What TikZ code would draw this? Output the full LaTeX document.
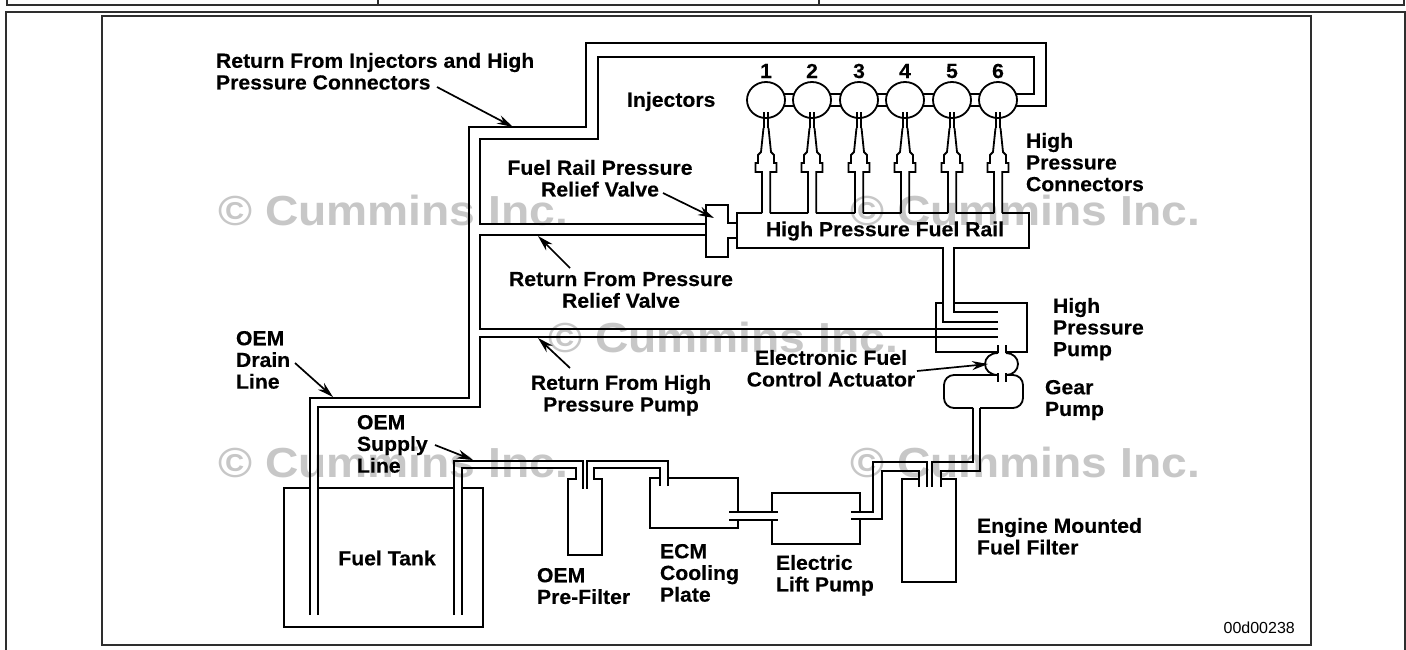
\documentclass[tikz,border=0pt]{standalone}
\usepackage{fontspec}
\setmainfont{Liberation Sans}
\newfontfamily\lblfont[FakeStretch=1.04,FakeBold=0.25]{Liberation Sans Bold}
\newfontfamily\wmfont[FakeStretch=1.1]{Liberation Sans Bold}
\usetikzlibrary{shapes.geometric,arrows.meta}
\definecolor{frameink}{gray}{0.18}
\tikzset{
  pipe/.style={draw=black,line width=1.8pt,line join=miter},
  frameline/.style={draw=frameink,line width=2.4pt},
  lbl/.style={font=\fontsize{20.4}{21.7}\selectfont\lblfont,inner sep=0pt,outer sep=0pt,text=black},
  lblw/.style={lbl,anchor=north west,align=left},
  lblc/.style={lbl,anchor=north,align=center},
  wm/.style={font=\fontsize{42}{44}\selectfont\wmfont,text=black!22,inner sep=0pt,anchor=west},
  ptr/.style={draw=black,line width=1.7pt,-{Stealth[length=16pt,width=9pt]}},
  injector/.style={ellipse,draw=black,line width=1.8pt,minimum width=38pt,minimum height=36pt,inner sep=0pt,fill=white},
}
\begin{document}
\begin{tikzpicture}[x=1pt,y=-1pt]
\useasboundingbox (0,0) rectangle (1406,649);
\fill[white] (0,0) rectangle (1406,649);
% page frames
\draw[frameline] (7,-3) -- (7,5) -- (1404,5) -- (1404,-3);
\draw[frameline] (378,-3) -- (378,5);
\draw[frameline] (819,-3) -- (819,5);
\draw[frameline,line width=2pt] (6,655) -- (6,12) -- (1405,12) -- (1405,655);
\draw[frameline,line width=2.6pt] (102,16) rectangle (1311,645);
% watermarks
\node[wm] (wa) at (218,210) {© Cummins Inc.};
\node[wm] (wb) at (850,210) {© Cummins Inc.};
\node[wm] (wc) at (548,337) {© Cummins Inc.};
\node[wm] (wd) at (218,462) {© Cummins Inc.};
\node[wm] (we) at (850,462) {© Cummins Inc.};
% injector centres
\foreach \n/\x in {1/766,2/812,3/859,4/905,5/952,6/998}{\coordinate (c\n) at (\x,100);}
% injector return
\draw[pipe] (310,615) -- (310,398) -- (469,398) -- (469,127) -- (586,127) -- (586,43) -- (1046,43) -- (1046,106) -- (c6 |- 0,106);
\draw[pipe] (318,615) -- (318,407) -- (480,407) -- (480,337) -- (998,337);
\draw[pipe] (998,329) -- (480,329) -- (480,235) -- (706,235);
\draw[pipe] (706,224) -- (480,224) -- (480,139) -- (598,139) -- (598,57) -- (1034,57) -- (1034,94) -- (c6 |- 0,94);
% injector links, under the injectors
\foreach \a/\b in {c1/c2,c2/c3,c3/c4,c4/c5,c5/c6}{
  \draw[pipe] (\a |- 0,94) -- (\b |- 0,94);
  \draw[pipe] (\a |- 0,106) -- (\b |- 0,106);
}
% injectors
\foreach \n/\x in {1/766,2/812,3/859,4/905,5/952,6/998}{
  \node[injector] (inj\n) at (c\n) {};
  \node[lbl] (num\n) at (\x,71) {\n};
  \draw[pipe] (\x-1.7,112) -- (\x-1.7,128);
  \draw[pipe] (\x+1.7,112) -- (\x+1.7,128);
  \draw[pipe] (\x-4,213) -- (\x-4,172) -- (\x-10.5,172) -- (\x-10.5,163) -- (\x-8,163) -- (\x-8,155) -- (\x-5,152) -- (\x-2.5,128);
  \draw[pipe] (\x+4.3,213) -- (\x+4.3,172) -- (\x+10.5,172) -- (\x+10.5,163) -- (\x+8,163) -- (\x+8,155) -- (\x+5,152) -- (\x+2.5,128);
}
% rail
\draw[pipe] (762,213) -- (737,213) -- (737,248) -- (943,248) -- (943,322) -- (998,322);
\draw[pipe] (998,312) -- (954,312) -- (954,248) -- (1029,248) -- (1029,213) -- (1002.3,213);
\draw[pipe] (770.3,213) -- (808,213);
\draw[pipe] (816.3,213) -- (855,213);
\draw[pipe] (863.3,213) -- (901,213);
\draw[pipe] (909.3,213) -- (948,213);
\draw[pipe] (956.3,213) -- (994,213);
% relief valve
\draw[pipe] (737,223) -- (728,223) -- (728,205) -- (706,205) -- (706,257) -- (728,257) -- (728,238) -- (737,238);
% high pressure pump
\draw[pipe] (943,303) -- (936,303) -- (936,352) -- (998,352) -- (998,345);
\draw[pipe] (954,303) -- (1027,303) -- (1027,352) -- (1006,352) -- (1006,345);
% actuator
\draw[pipe] (998,353) .. controls (990,353) and (985,358) .. (985,364) .. controls (985,370) and (990,375) .. (998,375);
\draw[pipe] (1006,353) .. controls (1013,353) and (1018,358) .. (1018,364) .. controls (1018,370) and (1013,375) .. (1006,375);
\draw[pipe] (998,373) -- (998,382);
\draw[pipe] (1006,373) -- (1006,382);
% gear pump
\draw[pipe,rounded corners=10pt] (998,375) -- (944,375) -- (944,408) -- (973,408);
\draw[pipe,rounded corners=10pt] (1006,375) -- (1023,375) -- (1023,408) -- (980,408);
\draw[pipe] (973,408) -- (973,462) -- (932,462) -- (932,487);
\draw[pipe] (980,408) -- (980,471) -- (941,471) -- (941,487);
% engine filter
\draw[pipe] (919,479) -- (902,479) -- (902,582) -- (956,582) -- (956,479) -- (941,479);
\draw[pipe] (927,487) -- (927,462) -- (873,462) -- (873,512) -- (851,512);
\draw[pipe] (919,487) -- (919,471) -- (882,471) -- (882,519) -- (851,519);
% lift pump
\draw[pipe] (860,512) -- (860,493) -- (772,493) -- (772,512);
\draw[pipe] (860,519) -- (860,544) -- (772,544) -- (772,519);
\draw[pipe] (729,512) -- (778,512);
\draw[pipe] (729,520) -- (778,520);
% ECM plate
\draw[pipe] (660,478) -- (650,478) -- (650,528) -- (738,528) -- (738,520);
\draw[pipe] (668,478) -- (738,478) -- (738,512);
\draw[pipe] (668,486) -- (668,461) -- (587,461) -- (587,489);
\draw[pipe] (660,486) -- (660,468) -- (594,468) -- (594,479) -- (602,479) -- (602,555) -- (568,555) -- (568,479) -- (576,479) -- (576,468) -- (462,468) -- (462,615);
\draw[pipe] (454,615) -- (454,461) -- (583,461) -- (583,489);
% tank
\draw[pipe] (310,488) -- (284,488) -- (284,627) -- (483,627) -- (483,488) -- (462,488);
\draw[pipe] (318,488) -- (454,488);
% labels
\node[lblw] (l1) at (216,53) {Return From Injectors and High\\Pressure Connectors};
\node[lblw] (l2) at (627,92) {Injectors};
\node[lblw] (l3) at (1026,133) {High\\Pressure\\Connectors};
\node[lblc] (l4) at (600,160) {Fuel Rail Pressure\\Relief Valve};
\node[lbl] (l5) at (885,231) {High Pressure Fuel Rail};
\node[lblc] (l6) at (621,272) {Return From Pressure\\Relief Valve};
\node[lblw] (l7) at (1053,298) {High\\Pressure\\Pump};
\node[lblw] (l8) at (236,331) {OEM\\Drain\\Line};
\node[lblc] (l9) at (831,350) {Electronic Fuel\\Control Actuator};
\node[lblc] (l10) at (621,375) {Return From High\\Pressure Pump};
\node[lblw] (l11) at (1045,380) {Gear\\Pump};
\node[lblw] (l12) at (357,415) {OEM\\Supply\\Line};
\node[lblw] (l13) at (660,544) {ECM\\Cooling\\Plate};
\node[lbl] (l14) at (387,558) {Fuel Tank};
\node[lblw] (l15) at (537,568) {OEM\\Pre-Filter};
\node[lblw] (l16) at (776,555) {Electric\\Lift Pump};
\node[lblw] (l17) at (977,518) {Engine Mounted\\Fuel Filter};
\node[font=\fontsize{16}{18}\selectfont,anchor=east,inner sep=0pt] (code) at (1295,628) {00d00238};
% pointers
\coordinate (p1) at (513,127); \coordinate (q1) at (437,87);
\coordinate (p2) at (714,218); \coordinate (q2) at (663,193);
\coordinate (p3) at (538,236); \coordinate (q3) at (570,268);
\coordinate (p4) at (538,338); \coordinate (q4) at (570,368);
\coordinate (p5) at (333,397); \coordinate (q5) at (295,363);
\coordinate (p6) at (473,460); \coordinate (q6) at (435,445);
\coordinate (p7) at (988,364); \coordinate (q7) at (917,371);
\foreach \i in {1,...,7}{\draw[ptr] (q\i) -- (p\i);}
\end{tikzpicture}
\end{document}
